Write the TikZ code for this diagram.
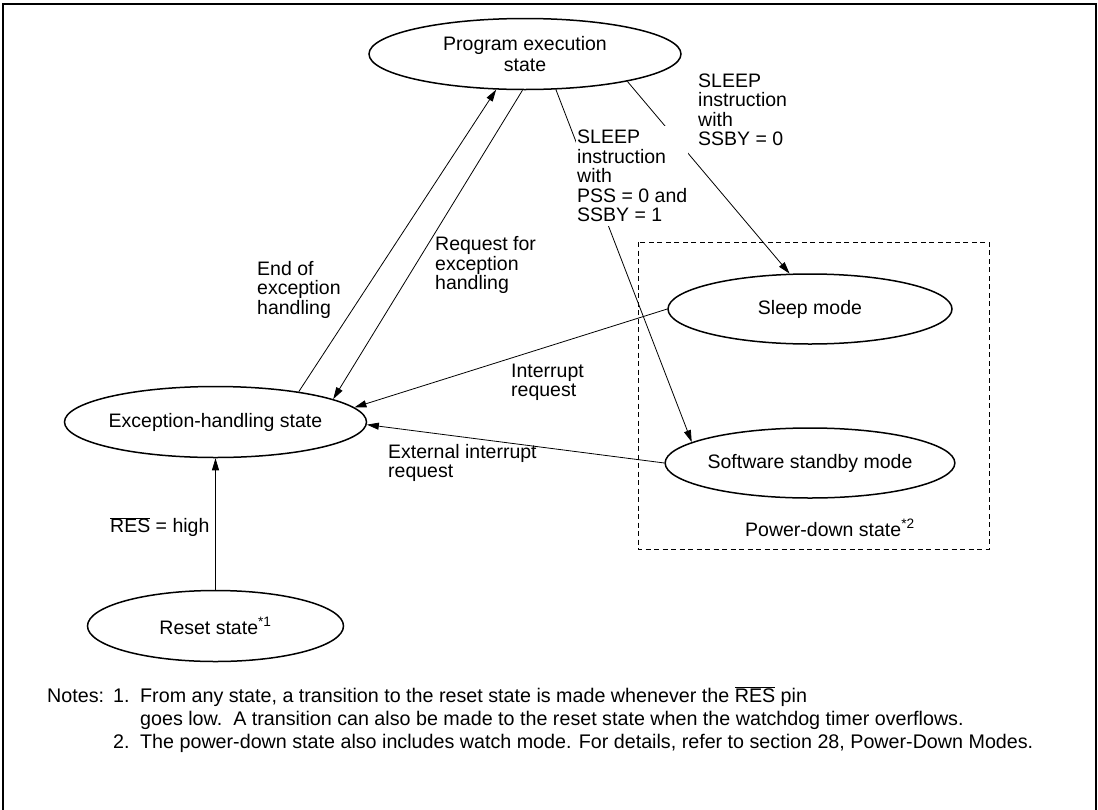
\documentclass[tikz,border=0pt]{standalone}
\usepackage{fontspec}
\setmainfont{Liberation Sans}
\usetikzlibrary{shapes.geometric,arrows.meta}
\newcommand\dfont{\fontsize{19.5}{19.5}\selectfont}
\newcommand\nfont{\fontsize{19.7}{23}\selectfont}
\newcommand\resbar{$\overline{\hbox{RES}}$}
\begin{document}
\begin{tikzpicture}[x=1pt,y=-1pt,
  state/.style={ellipse,draw,line width=1.5pt,inner sep=0pt,align=center,font=\dfont},
  conn/.style={line width=0.8pt,-{Triangle[length=12pt,width=7pt]}},
  lbl/.style={align=left,font=\dfont,inner sep=0pt},
  note/.style={font=\nfont,inner sep=0pt},
  pdbox/.style={line width=0.8pt,dash pattern=on 5pt off 3.5pt}]
\useasboundingbox (0,0) rectangle (1098,809);
\draw[line width=2pt] (2.5,812) -- (2.5,4) -- (1096,4) -- (1096,812);
% power-down frame
\draw[pdbox] (638,242) rectangle (989,549);
% states
\node[state,minimum width=312pt,minimum height=71pt] (pe) at (525,54) {Program execution\\[2pt]state};
\node[state,minimum width=256pt,minimum height=71pt] (eh) at (215.5,422) {Exception-handling state};
\node[state,minimum width=256pt,minimum height=71pt] (rs) at (215.5,626) {Reset state\textsuperscript{*1}};
\node[state,minimum width=284pt,minimum height=70pt] (sl) at (810,309) {Sleep mode};
\node[state,minimum width=284pt,minimum height=70pt] (ss) at (810,463) {Software standby mode};
% connectors
\draw[conn] (eh.20.4) -- (pe.231.3);
\draw[conn] (pe.266.8) -- (eh.11.7);
\draw[conn] (pe.311.7) -- (ss.170.4);
\draw[conn] (pe.345) -- (sl.120);
\draw[conn] (sl.180) -- (eh.6);
\draw[conn] (ss.180) -- (eh.-1);
\draw[conn] (rs.north) -- (eh.south);
% labels
\node[lbl,anchor=west] (l1) at (257,289.5) {End of\\exception\\handling};
\node[lbl,anchor=west] (l2) at (435,265) {Request for\\exception\\handling};
\node[lbl,anchor=west,fill=white,inner xsep=1pt,inner ysep=4pt] (l3) at (576,176) {SLEEP\\instruction\\with\\PSS = 0 and\\SSBY = 1};
\node[lbl,anchor=west] (l4) at (698,110) {SLEEP\\instruction\\with\\SSBY = 0};
\node[lbl,anchor=west] (l5) at (511,382.5) {Interrupt\\request};
\node[lbl,anchor=west] (l6) at (388,463) {External interrupt\\request};
\node[lbl,anchor=west] (l7) at (110,527) {\resbar{} = high};
\node[lbl,anchor=west] (l8) at (745,528) {Power-down state\textsuperscript{*2}};
% notes
\node[note,anchor=base west] (nt) at (47,702) {Notes:};
\node[note,anchor=base west] (n1) at (113,702) {1.};
\node[note,anchor=base west] (t1a) at (140,702) {From any state, a transition to the reset state is made whenever the \resbar{} pin};
\node[note,anchor=base west] (t1b) at (140,725) {goes low.\ \ A transition can also be made to the reset state when the watchdog timer overflows.};
\node[note,anchor=base west] (n2) at (113,748) {2.};
\node[note,anchor=base west] (t2) at (140,748) {The power-down state also includes watch mode. For details, refer to section 28, Power-Down Modes.};
\end{tikzpicture}
\end{document}
